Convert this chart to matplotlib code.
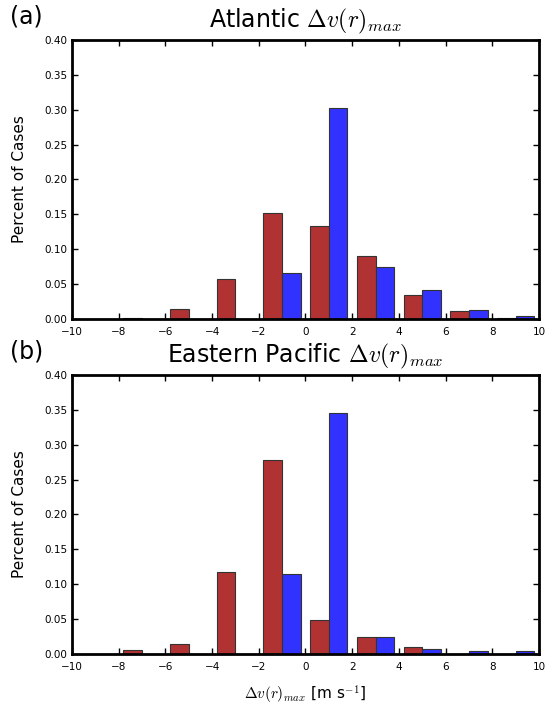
import numpy as np
import matplotlib
matplotlib.use("Agg")
import matplotlib.pyplot as plt

plt.rcParams["mathtext.fontset"] = "cm"
plt.rcParams["xtick.direction"] = "in"
plt.rcParams["ytick.direction"] = "in"

BIN_EDGES = np.arange(-10, 11, 2)
BIN_CENTERS = BIN_EDGES[:-1] + 1

# fractions per bin (red = first series, blue = second series)
atl_red = [0.0, 0.002, 0.014, 0.058, 0.152, 0.134, 0.090, 0.035, 0.012, 0.002]
atl_blue = [0.0, 0.0, 0.0, 0.0, 0.066, 0.302, 0.075, 0.041, 0.013, 0.004]
epac_red = [0.0, 0.005, 0.015, 0.118, 0.278, 0.049, 0.024, 0.010, 0.0, 0.0]
epac_blue = [0.0, 0.0, 0.0, 0.0, 0.115, 0.346, 0.024, 0.007, 0.004, 0.004]

panels = [
    ("(a)", r"Atlantic $\Delta v(r)_{max}$", atl_red, atl_blue),
    ("(b)", r"Eastern Pacific $\Delta v(r)_{max}$", epac_red, epac_blue),
]

fig = plt.figure(figsize=(5.47, 7.06), dpi=100)
positions = [[0.1316, 0.5482, 0.8537, 0.3952], [0.1316, 0.0737, 0.8537, 0.3952]]

for pos, (tag, title, red, blue) in zip(positions, panels):
    ax = fig.add_axes(pos)
    ax.hist([BIN_CENTERS, BIN_CENTERS], bins=BIN_EDGES, weights=[red, blue],
            color=["#b03232", "#3232ff"], edgecolor="#333333", linewidth=0.8)
    ax.set_xlim(-10, 10)
    ax.set_ylim(0, 0.4)
    ax.set_xticks(np.arange(-10, 11, 2))
    ax.set_yticks(np.arange(0, 0.41, 0.05))
    ax.set_yticklabels([f"{v:.2f}" for v in np.arange(0, 0.41, 0.05)])
    ax.tick_params(labelsize=7.5, top=True, right=True, length=4, width=1)
    ax.tick_params(axis="x", pad=6)
    for s in ax.spines.values():
        s.set_linewidth(2)
    ax.set_ylabel("Percent of Cases", fontsize=11, labelpad=12)
    ax.set_title(title, fontsize=17, pad=9)
    ax.text(-0.133, 1.04, tag, transform=ax.transAxes, fontsize=17,
            ha="left", va="bottom")

ax.set_xlabel(r"$\Delta v(r)_{max}$ [m s$^{-1}$]", fontsize=11, labelpad=8)

fig.savefig("out.png", dpi=100)
